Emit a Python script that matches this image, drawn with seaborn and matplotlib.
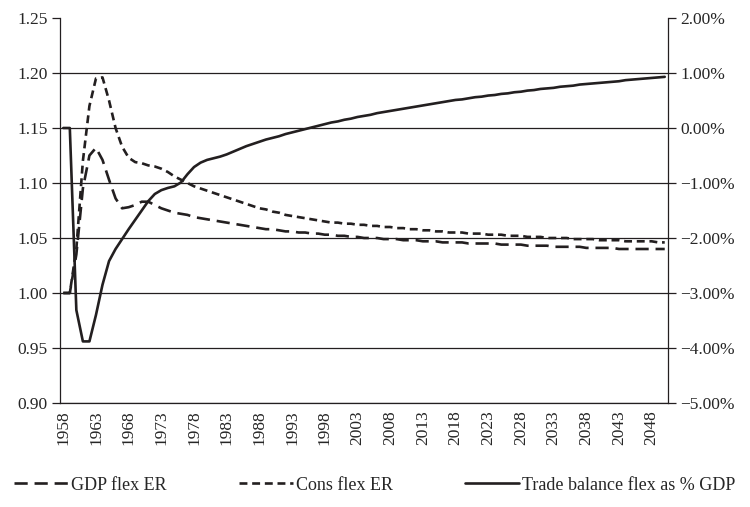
import numpy as np
import pandas as pd
import matplotlib
matplotlib.use("Agg")
import matplotlib.pyplot as plt
import seaborn as sns
from matplotlib.ticker import FixedLocator

years = list(range(1958, 2051))

gdp_flex_er = [
    1.000, 1.000, 1.035, 1.095, 1.125, 1.132, 1.121, 1.103, 1.086, 1.077,
    1.078, 1.080, 1.083, 1.083, 1.080, 1.077, 1.075, 1.073, 1.072, 1.071,
    1.069, 1.068, 1.067, 1.066, 1.065, 1.064, 1.063, 1.062, 1.061, 1.060,
    1.059, 1.058, 1.058, 1.057, 1.056, 1.056, 1.055, 1.055, 1.054, 1.054,
    1.053, 1.053, 1.052, 1.052, 1.051, 1.051, 1.050, 1.050, 1.050, 1.049,
    1.049, 1.049, 1.048, 1.048, 1.048, 1.047, 1.047, 1.047, 1.046, 1.046,
    1.046, 1.046, 1.045, 1.045, 1.045, 1.045, 1.045, 1.044, 1.044, 1.044,
    1.044, 1.043, 1.043, 1.043, 1.043, 1.042, 1.042, 1.042, 1.042, 1.042,
    1.041, 1.041, 1.041, 1.041, 1.041, 1.040, 1.040, 1.040, 1.040, 1.040,
    1.040, 1.040, 1.040,
]

cons_flex_er = [
    1.000, 1.000, 1.040, 1.120, 1.170, 1.195, 1.196, 1.175, 1.150, 1.133,
    1.123, 1.119, 1.118, 1.116, 1.115, 1.113, 1.110, 1.106, 1.103, 1.100,
    1.097, 1.095, 1.093, 1.091, 1.089, 1.087, 1.085, 1.083, 1.081, 1.079,
    1.077, 1.076, 1.074, 1.073, 1.071, 1.070, 1.069, 1.068, 1.067, 1.066,
    1.065, 1.064, 1.064, 1.063, 1.063, 1.062, 1.062, 1.061, 1.061, 1.060,
    1.060, 1.059, 1.059, 1.058, 1.058, 1.057, 1.057, 1.056, 1.056, 1.055,
    1.055, 1.055, 1.054, 1.054, 1.054, 1.053, 1.053, 1.053, 1.052, 1.052,
    1.052, 1.051, 1.051, 1.051, 1.050, 1.050, 1.050, 1.050, 1.049, 1.049,
    1.049, 1.049, 1.048, 1.048, 1.048, 1.048, 1.047, 1.047, 1.047, 1.047,
    1.047, 1.046, 1.046,
]

trade_balance_pct = [
    0.00, 0.00, -3.31, -3.88, -3.88, -3.40, -2.85, -2.42, -2.20, -2.02,
    -1.84, -1.67, -1.50, -1.33, -1.20, -1.13, -1.09, -1.06, -0.99, -0.84,
    -0.71, -0.63, -0.58, -0.55, -0.52, -0.48, -0.43, -0.38, -0.33, -0.29,
    -0.25, -0.21, -0.18, -0.15, -0.11, -0.08, -0.05, -0.02, 0.01, 0.04,
    0.07, 0.10, 0.12, 0.15, 0.17, 0.20, 0.22, 0.24, 0.27, 0.29,
    0.31, 0.33, 0.35, 0.37, 0.39, 0.41, 0.43, 0.45, 0.47, 0.49,
    0.51, 0.52, 0.54, 0.56, 0.57, 0.59, 0.60, 0.62, 0.63, 0.65,
    0.66, 0.68, 0.69, 0.71, 0.72, 0.73, 0.75, 0.76, 0.77, 0.79,
    0.80, 0.81, 0.82, 0.83, 0.84, 0.85, 0.87, 0.88, 0.89, 0.90,
    0.91, 0.92, 0.93,
]

labels = ["GDP flex ER", "Cons flex ER", "Trade balance flex as % GDP"]
left_ticks = [0.90, 0.95, 1.00, 1.05, 1.10, 1.15, 1.20, 1.25]
right_ticks = [-5, -4, -3, -2, -1, 0, 1, 2]
year_label_step = 5

sns.set_style("white")
plt.rcParams['font.family'] = ['Liberation Serif', 'DejaVu Serif']
plt.rcParams['font.size'] = 12.5

df = pd.DataFrame({"year": years, "gdp": gdp_flex_er, "cons": cons_flex_er,
                   "tb": trade_balance_pct})

fig = plt.figure(figsize=(7.5, 5.07), dpi=100)
ax = fig.add_axes([60/750, 1-403/507, (668-60)/750, (403-18)/507])
ax2 = ax.twinx()

ink = "#231f20"
lw = 1.9
sns.lineplot(data=df, x="year", y="gdp", ax=ax, color=ink, lw=lw,
             linestyle=(0, (5, 2.6)), label=labels[0], legend=False)
sns.lineplot(data=df, x="year", y="cons", ax=ax, color=ink, lw=lw,
             linestyle=(0, (3, 1.8)), label=labels[1], legend=False)
sns.lineplot(data=df, x="year", y="tb", ax=ax2, color=ink, lw=lw,
             linestyle="-", label=labels[2], legend=False)

ax.set_xlim(years[0] - 0.5, years[-1] + 0.5)
ax.set_ylim(left_ticks[0], left_ticks[-1])
ax2.set_ylim(right_ticks[0], right_ticks[-1])

for v in left_ticks[:-1]:
    ax.axhline(v, color=ink, lw=0.9, zorder=0)

ax.set_yticks(left_ticks)
ax.set_yticklabels([f"{v:.2f}" for v in left_ticks])
ax2.set_yticks(right_ticks)
ax2.set_yticklabels([(f"{v:.2f}%" if v >= 0 else f"\u2212{abs(v):.2f}%")
                     for v in right_ticks])

major = [y for y in years if (y - years[0]) % year_label_step == 0]
ax.set_xticks(major)
ax.set_xticklabels([str(y) for y in major], rotation=90)
ax.xaxis.set_minor_locator(FixedLocator([y - 0.5 for y in years] + [years[-1] + 0.5]))
ax.tick_params(axis="x", which="major", length=0, pad=5, labelsize=12.5)
ax.tick_params(axis="x", which="minor", length=5, width=0.9, color=ink, direction="out")
ax.tick_params(axis="y", length=6, width=0.9, color=ink, direction="out", labelsize=12.5, pad=3)
ax2.tick_params(axis="y", length=6, width=0.9, color=ink, direction="out", labelsize=12.5, pad=3)

for a in (ax, ax2):
    a.set_xlabel("")
    a.set_ylabel("")
    a.spines["top"].set_visible(False)
    for s in ("left", "right", "bottom"):
        a.spines[s].set_color(ink)
        a.spines[s].set_linewidth(0.9)
ax.spines["right"].set_visible(False)
ax2.spines["left"].set_visible(False)
ax2.spines["bottom"].set_visible(False)

h1, l1 = ax.get_legend_handles_labels()
h2, l2 = ax2.get_legend_handles_labels()
fig.legend(h1 + h2, l1 + l2, loc="center", bbox_to_anchor=(0.5, 1-485/507),
           ncol=3, frameon=False, fontsize=13, handlelength=3.0,
           columnspacing=4.0, handletextpad=0.15, borderaxespad=0.0)

fig.savefig("out.png", dpi=100)
